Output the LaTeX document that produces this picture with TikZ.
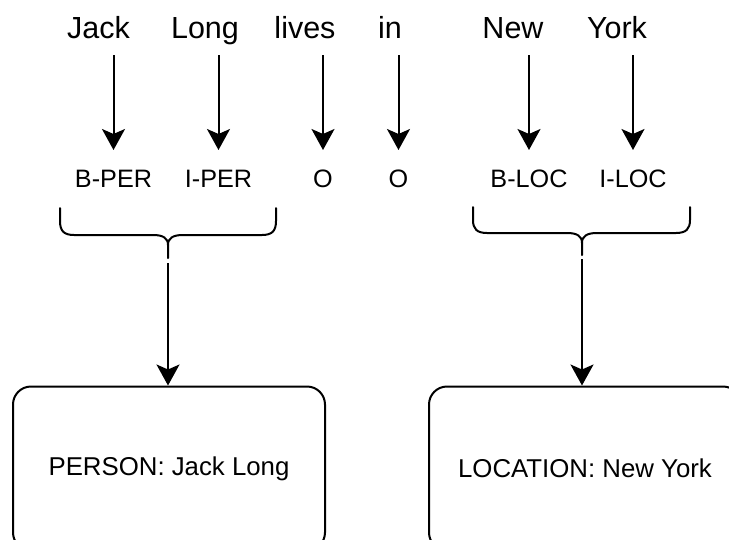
\documentclass[tikz,border=0pt]{standalone}
\usepackage{fontspec}
\setmainfont{Liberation Sans}
\usetikzlibrary{arrows.meta}
\begin{document}
\begin{tikzpicture}[x=1pt,y=-1pt,
  word/.style={font=\fontsize{30.5}{36}\selectfont, inner sep=0pt, text height=22pt, text depth=6.5pt, outer xsep=0pt, outer ysep=10.5pt, anchor=base},
  tag/.style={font=\fontsize{25.2}{30}\selectfont, inner sep=0pt, text height=18pt, text depth=0pt, outer xsep=0pt, outer ysep=19pt, anchor=base},
  entity/.style={draw, line width=2pt, rounded corners=18pt, minimum width=312pt, minimum height=164pt, font=\fontsize{25.8}{30}\selectfont, inner sep=0pt},
  arr/.style={line width=2pt, -{Stealth[length=21pt,width=23pt,inset=5pt]}},
  brace/.style={line width=2pt, line cap=round}
]
\useasboundingbox (0,0) rectangle (729,539);
\clip (0,0) rectangle (729,539);

% sentence tokens
\node[word] (w1) at (98.5,38) {Jack};
\node[word] (w2) at (205,38) {Long};
\node[word] (w3) at (305,38) {lives};
\node[word] (w4) at (390,38) {in};
\node[word] (w5) at (513,38) {New};
\node[word] (w6) at (617,38) {York};

% BIO tags
\node[tag] (t1) at (113.5,187) {B-PER};
\node[tag] (t2) at (218.5,187) {I-PER};
\node[tag] (t3) at (323,187) {O};
\node[tag] (t4) at (398.5,187) {O};
\node[tag] (t5) at (529,187) {B-LOC};
\node[tag] (t6) at (633,187) {I-LOC};

\foreach \i in {1,...,6}
  \draw[arr] (w\i.south -| t\i) -- (t\i);

% braces grouping the tagged spans
\draw[brace] (60,208) -- (60,221) .. controls (60,231) and (64,235) .. (74,235) -- (153,235)
  .. controls (163,235) and (168,238) .. (168,245) -- (168,258);
\draw[brace] (276,208) -- (276,221) .. controls (276,231) and (272,235) .. (262,235) -- (183,235)
  .. controls (173,235) and (168,238) .. (168,245);
\draw[brace] (473,207) -- (473,220) .. controls (473,229) and (477,233) .. (487,233) -- (567,233)
  .. controls (577,233) and (582,236) .. (582,243) -- (582,255);
\draw[brace] (690,207) -- (690,220) .. controls (690,229) and (686,233) .. (676,233) -- (597,233)
  .. controls (587,233) and (582,236) .. (582,243);

\coordinate (s1) at (168,263);
\coordinate (s2) at (582,259);

% resulting entities
\node[entity] (e1) at (169,468.5) {PERSON: Jack Long};
\node[entity] (e2) at (585,468.5) {LOCATION: New York};

\draw[arr] (s1) -- (s1 |- e1.north);
\draw[arr] (s2) -- (s2 |- e2.north);
\end{tikzpicture}
\end{document}
